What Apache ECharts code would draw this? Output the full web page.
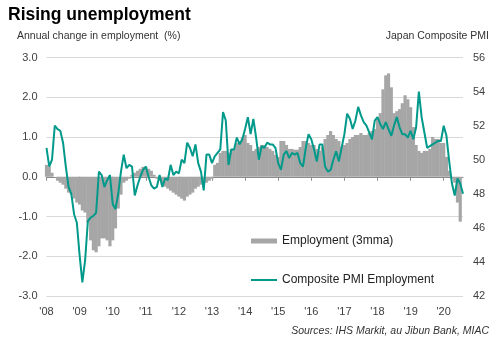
<!DOCTYPE html>
<html><head><meta charset="utf-8">
<script src="https://cdn.jsdelivr.net/npm/echarts@6/dist/echarts.min.js"></script>
<style>html,body{margin:0;padding:0;background:#fff}#c{width:499px;height:360px}</style>
</head><body><div id="c"></div>
<script>
// ---- data ----
const years = [2008,2009,2010,2011,2012,2013,2014,2015,2016,2017,2018,2019,2020];
const yearLabels = ["'08","'09","'10","'11","'12","'13","'14","'15","'16","'17","'18","'19","'20"];
const lastMonthsIn2020 = 8; // Jan..Aug 2020
const categories = [];
years.forEach(function(y){
  const n = (y === 2020) ? lastMonthsIn2020 : 12;
  for (let m = 1; m <= n; m++) categories.push(y + '-' + (m < 10 ? '0' + m : m));
});

// Annual change in employment (%), 3mma — left axis
const employment = [
  0.3, 0.25, 0.1, 0.0, -0.1, -0.15, -0.2, -0.3, -0.4, -0.45, -0.55, -0.65,
  -0.7, -0.85, -0.9, -1.15, -1.6, -1.85, -1.9, -1.75, -1.55, -1.55, -1.6, -1.75,
  -1.6, -1.3, -0.8, -0.45, -0.15, -0.1, -0.05, 0.05, 0.1, 0.15, 0.2, 0.25,
  0.25, 0.2, 0.15, 0.05, -0.05, -0.1, -0.2, -0.25, -0.3, -0.35, -0.4, -0.45,
  -0.5, -0.55, -0.6, -0.5, -0.45, -0.4, -0.3, -0.25, -0.2, -0.15, -0.15, -0.1,
  -0.05, 0.3, 0.35, 0.6, 0.65, 0.65, 0.6, 0.7, 0.7, 0.85, 0.9, 1.0,
  1.05, 0.85, 0.8, 0.65, 0.7, 0.75, 0.8, 0.8, 0.75, 0.7, 0.65, 0.55,
  0.5, 0.9, 0.9, 0.8, 0.7, 0.7, 0.68, 0.68, 0.75, 0.9, 0.9, 0.85,
  0.8, 0.8, 0.7, 0.65, 0.75, 0.95, 1.05, 1.15, 1.05, 0.95, 0.9, 0.75,
  0.8, 0.85, 0.95, 1.0, 1.05, 1.05, 1.1, 1.05, 1.05, 1.1, 1.15, 1.2,
  1.45, 1.6, 2.2, 2.55, 2.6, 2.25, 1.6, 1.65, 1.7, 1.85, 2.05, 1.95,
  1.75, 1.25, 0.8, 0.65, 0.6, 0.65, 0.65, 0.7, 1.0, 0.95, 0.95, 0.85,
  0.85, 0.5, 0.15, -0.05, -0.15, -0.65, -1.13, null
];

// Japan Composite PMI Employment index — right axis
const pmi = [
  50.7, 49.6, 50.0, 52.0, 51.8, 51.7, 51.0, 49.6, 48.4, 48.0, 46.8, 46.3,
  44.4, 42.8, 44.1, 46.4, 46.6, 46.7, 46.9, 49.3, 49.1, 48.4, 48.8, 49.1,
  47.4, 47.1, 48.0, 49.3, 50.3, 49.5, 49.7, 49.6, 47.9, 48.5, 49.0, 49.4,
  49.6, 49.0, 48.5, 48.3, 48.4, 49.1, 48.4, 48.9, 48.8, 49.7, 49.1, 49.3,
  49.2, 50.0, 49.8, 51.0, 50.7, 50.2, 50.9, 49.8, 49.3, 48.2, 50.3, 50.3,
  49.8, 50.2, 50.4, 50.6, 52.8, 52.3, 49.7, 50.6, 50.6, 51.3, 50.9, 51.2,
  51.8, 52.5, 51.5, 52.4, 51.3, 50.0, 50.8, 50.7, 51.0, 50.9, 50.9, 50.7,
  49.8, 49.4, 50.3, 50.5, 50.1, 50.4, 50.3, 50.4, 49.8, 49.6, 50.7, 51.5,
  51.2, 50.6, 49.9, 50.9, 50.9, 49.6, 49.3, 49.4, 50.0, 50.5, 49.9, 50.7,
  51.5, 52.7, 52.4, 51.8, 52.3, 53.1, 52.6, 52.2, 52.0, 51.6, 51.2, 52.3,
  52.5, 52.1, 51.8, 52.2, 51.8, 51.4, 52.0, 52.5, 51.9, 51.5, 51.5, 51.3,
  51.7, 51.2, 51.9, 54.0, 52.5, 51.6, 50.7, 50.8, 50.9, 51.0, 51.1, 51.1,
  52.0, 51.4, 49.9, 48.6, 47.9, 48.9, 48.6, 48.0
];

const leftAxis = { min: -3, max: 3, step: 1 };
const rightAxis = { min: 42, max: 56, step: 2 };

const seriesNames = ['Employment (3mma)', 'Composite PMI Employment'];
const titleText = 'Rising unemployment';
const leftAxisTitle = 'Annual change in employment  (%)';
const rightAxisTitle = 'Japan Composite PMI';
const sourceText = 'Sources: IHS Markit, au Jibun Bank, MIAC';

// ---- chart ----
const FONT = '"Liberation Sans", Arial, sans-serif';
const LABEL = '#404040';
const BAR = '#a6a6a6';
const LINE = '#00998a';
const chart = echarts.init(document.getElementById('c'), null, { renderer: 'canvas' });
const isJan = function (i) { return i % 12 === 0; };

chart.setOption({
  animation: false,
  backgroundColor: '#fff',
  textStyle: { fontFamily: FONT },
  grid: { left: 46.5, right: 36, top: 57.5, bottom: 64, containLabel: false },
  legend: {
    orient: 'vertical', left: 251, top: 235, padding: 0,
    itemWidth: 26, itemHeight: 5, itemGap: 27,
    textStyle: { fontSize: 12, color: '#222', fontFamily: FONT },
    data: [
      { name: seriesNames[0], icon: 'path://M0,0H26V5H0Z' },
      { name: seriesNames[1], icon: 'path://M0,0H26V2H0Z' }
    ]
  },
  xAxis: [
    {
      type: 'category', data: categories, boundaryGap: false, position: 'top',
      axisLine: { onZero: true, onZeroAxisIndex: 0, lineStyle: { color: '#8c8c8c', width: 1 } },
      axisTick: { show: true, inside: true, length: 4, interval: isJan, lineStyle: { color: '#8c8c8c' } },
      axisLabel: { show: false },
      splitLine: { show: false }
    },
    {
      type: 'category', data: categories, boundaryGap: false, position: 'bottom',
      axisLine: { show: false, onZero: false },
      axisTick: { show: false },
      axisLabel: {
        interval: isJan, margin: 10, fontSize: 11, color: LABEL, fontFamily: FONT,
        formatter: function (v) { return yearLabels[years.indexOf(+v.slice(0, 4))]; }
      },
      splitLine: { show: false }
    }
  ],
  yAxis: [
    {
      type: 'value', min: leftAxis.min, max: leftAxis.max, interval: leftAxis.step, position: 'left',
      axisLine: { show: false }, axisTick: { show: false },
      axisLabel: { margin: 9, fontSize: 11, color: LABEL, fontFamily: FONT,
        formatter: function (v) { return v.toFixed(1); } },
      splitLine: { show: true, lineStyle: { color: '#d9d9d9', width: 1 } }
    },
    {
      type: 'value', min: rightAxis.min, max: rightAxis.max, interval: rightAxis.step, position: 'right',
      axisLine: { show: false }, axisTick: { show: false },
      axisLabel: { margin: 10, fontSize: 11, color: LABEL, fontFamily: FONT },
      splitLine: { show: false }
    }
  ],
  series: [
    {
      name: seriesNames[0], type: 'bar', data: employment, xAxisIndex: 0, yAxisIndex: 0,
      barWidth: 3.2, barGap: '0%',
      itemStyle: { color: BAR }, z: 2
    },
    {
      name: seriesNames[1], type: 'line', data: pmi, xAxisIndex: 0, yAxisIndex: 1,
      symbol: 'none', lineStyle: { color: LINE, width: 2 }, itemStyle: { color: LINE }, z: 3
    }
  ],
  graphic: [
    { type: 'text', left: 8, top: 6, style: { text: titleText, font: 'bold 17.5px ' + FONT, fill: '#000' } },
    { type: 'text', left: 17, top: 31, style: { text: leftAxisTitle, font: '10.5px ' + FONT, fill: '#333' } },
    { type: 'text', right: 10, top: 31, style: { text: rightAxisTitle, font: '10.5px ' + FONT, fill: '#333' } },
    { type: 'text', right: 10, top: 326, style: { text: sourceText, font: 'italic 10.5px ' + FONT, fill: '#333' } }
  ]
});
</script>
</body></html>
